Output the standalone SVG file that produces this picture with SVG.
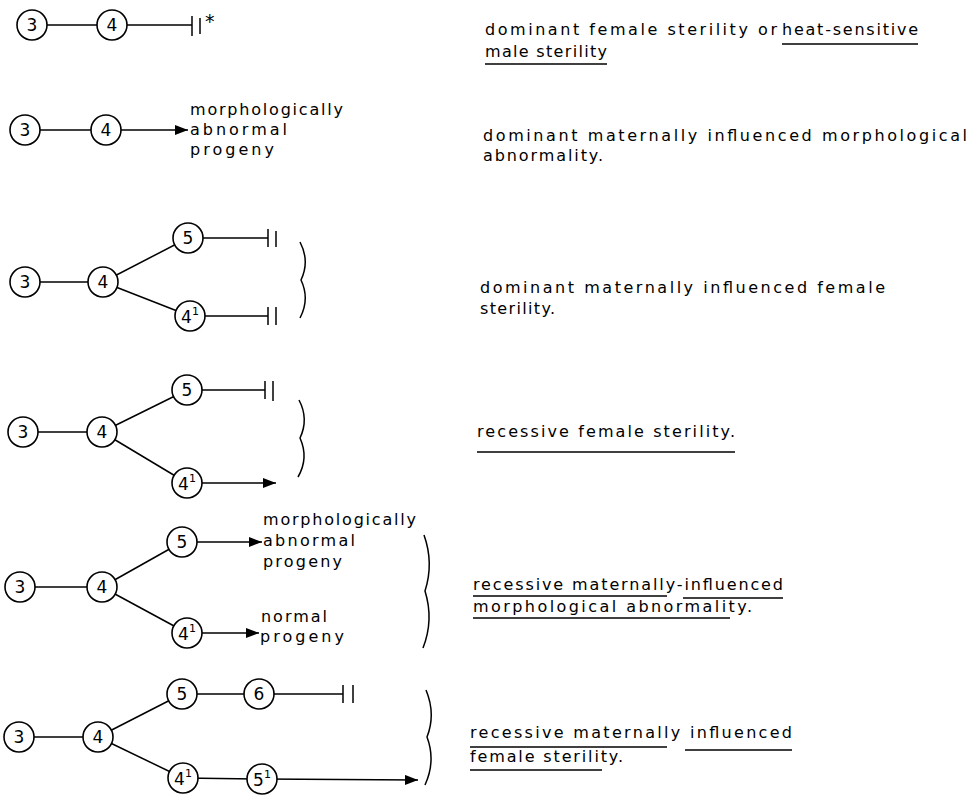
<svg xmlns="http://www.w3.org/2000/svg" width="975" height="796" viewBox="0 0 975 796">
<style>
.n circle{fill:#fff;stroke:#000;stroke-width:1.6}
.n text{font-family:"DejaVu Sans",sans-serif;font-size:17px;text-anchor:middle;fill:#000}
.n tspan.s{font-size:11px}
#connectors line,#connectors path{stroke:#000;stroke-width:1.5;fill:none}
.t{font-family:"DejaVu Sans",sans-serif;font-size:16px;fill:#000}
.u line{stroke:#000;stroke-width:1.3}
</style>
<defs>
<marker id="arr" markerUnits="userSpaceOnUse" markerWidth="13" markerHeight="10" refX="13" refY="5" orient="auto">
<path d="M0,0 L13,5 L0,10 z" fill="#000"/>
</marker>
</defs>
<rect width="975" height="796" fill="#fff"/>
<g id="connectors">
<line x1="32" y1="25" x2="112" y2="25"/>
<line x1="112" y1="25" x2="192" y2="25"/>
<line x1="192" y1="16" x2="192" y2="36"/>
<line x1="200" y1="18" x2="200" y2="34"/>
<line x1="25" y1="130" x2="106" y2="130"/>
<line x1="106" y1="130" x2="188" y2="130" marker-end="url(#arr)"/>
<line x1="25" y1="282" x2="103" y2="282"/>
<line x1="103" y1="282" x2="188" y2="238"/>
<line x1="103" y1="282" x2="190" y2="316"/>
<line x1="188" y1="238" x2="268" y2="238"/>
<line x1="268" y1="229" x2="268" y2="247"/>
<line x1="276" y1="231" x2="276" y2="247"/>
<line x1="190" y1="316" x2="268" y2="316"/>
<line x1="268" y1="307" x2="268" y2="325"/>
<line x1="276" y1="307" x2="276" y2="325"/>
<path d="M300,242 Q310,261 301,280 Q310,299 300,318"/>
<line x1="23" y1="432" x2="102" y2="432"/>
<line x1="102" y1="432" x2="187" y2="390"/>
<line x1="102" y1="432" x2="187" y2="483"/>
<line x1="187" y1="390" x2="265" y2="390"/>
<line x1="265" y1="381" x2="265" y2="399"/>
<line x1="273" y1="381" x2="273" y2="401"/>
<line x1="187" y1="483" x2="276" y2="483" marker-end="url(#arr)"/>
<path d="M299,400 Q309,419 300,438 Q309,458 298,477"/>
<line x1="20" y1="587" x2="102" y2="587"/>
<line x1="102" y1="587" x2="182" y2="542"/>
<line x1="102" y1="587" x2="187" y2="633"/>
<line x1="182" y1="542" x2="262" y2="542" marker-end="url(#arr)"/>
<line x1="187" y1="633" x2="259" y2="633" marker-end="url(#arr)"/>
<path d="M424,535 Q434,563 425,591 Q434,620 423,648"/>
<line x1="19" y1="737" x2="98" y2="737"/>
<line x1="98" y1="737" x2="182" y2="694"/>
<line x1="98" y1="737" x2="183" y2="778"/>
<line x1="182" y1="694" x2="259" y2="694"/>
<line x1="259" y1="694" x2="343" y2="694"/>
<line x1="343" y1="685" x2="343" y2="703"/>
<line x1="353" y1="685" x2="353" y2="703"/>
<line x1="183" y1="778" x2="262" y2="779"/>
<line x1="262" y1="779" x2="418" y2="780" marker-end="url(#arr)"/>
<path d="M426,690 Q436,714 427,737 Q436,761 425,785"/>
</g>
<g id="r1-3" class="n"><circle cx="32" cy="25" r="15"/><text x="32" y="31">3</text></g>
<g id="r1-4" class="n"><circle cx="112" cy="25" r="15"/><text x="112" y="31">4</text></g>
<text class="t" x="205" y="28" style="font-size:19px">*</text>
<g id="r2-3" class="n"><circle cx="25" cy="130" r="15"/><text x="25" y="136">3</text></g>
<g id="r2-4" class="n"><circle cx="106" cy="130" r="15"/><text x="106" y="136">4</text></g>
<g id="r2-label" class="t">
<text x="190" y="115" textLength="153" lengthAdjust="spacing">morphologically</text>
<text x="190" y="135" textLength="97" lengthAdjust="spacing">abnormal</text>
<text x="190" y="155" textLength="84" lengthAdjust="spacing">progeny</text>
</g>
<g id="r3-3" class="n"><circle cx="25" cy="282" r="15"/><text x="25" y="288">3</text></g>
<g id="r3-4" class="n"><circle cx="103" cy="282" r="15"/><text x="103" y="288">4</text></g>
<g id="r3-5" class="n"><circle cx="188" cy="238" r="15"/><text x="188" y="244">5</text></g>
<g id="r3-41" class="n"><circle cx="190" cy="316" r="15"/><text x="190" y="323">4<tspan class="s" dy="-8">1</tspan></text></g>
<g id="r4-3" class="n"><circle cx="23" cy="432" r="15"/><text x="23" y="438">3</text></g>
<g id="r4-4" class="n"><circle cx="102" cy="432" r="15"/><text x="102" y="438">4</text></g>
<g id="r4-5" class="n"><circle cx="187" cy="390" r="15"/><text x="187" y="396">5</text></g>
<g id="r4-41" class="n"><circle cx="187" cy="483" r="15"/><text x="187" y="490">4<tspan class="s" dy="-8">1</tspan></text></g>
<g id="r5-3" class="n"><circle cx="20" cy="587" r="15"/><text x="20" y="593">3</text></g>
<g id="r5-4" class="n"><circle cx="102" cy="587" r="15"/><text x="102" y="593">4</text></g>
<g id="r5-5" class="n"><circle cx="182" cy="542" r="15"/><text x="182" y="548">5</text></g>
<g id="r5-41" class="n"><circle cx="187" cy="633" r="15"/><text x="187" y="640">4<tspan class="s" dy="-8">1</tspan></text></g>
<g id="r5-label-a" class="t">
<text x="263" y="525" textLength="153" lengthAdjust="spacing">morphologically</text>
<text x="263" y="546" textLength="92" lengthAdjust="spacing">abnormal</text>
<text x="263" y="567" textLength="79" lengthAdjust="spacing">progeny</text>
</g>
<g id="r5-label-b" class="t">
<text x="261" y="622" textLength="66" lengthAdjust="spacing">normal</text>
<text x="260" y="642" textLength="84" lengthAdjust="spacing">progeny</text>
</g>
<g id="r6-3" class="n"><circle cx="19" cy="737" r="15"/><text x="19" y="743">3</text></g>
<g id="r6-4" class="n"><circle cx="98" cy="737" r="15"/><text x="98" y="743">4</text></g>
<g id="r6-5" class="n"><circle cx="182" cy="694" r="15"/><text x="182" y="700">5</text></g>
<g id="r6-6" class="n"><circle cx="259" cy="694" r="15"/><text x="259" y="700">6</text></g>
<g id="r6-41" class="n"><circle cx="183" cy="778" r="15"/><text x="183" y="785">4<tspan class="s" dy="-8">1</tspan></text></g>
<g id="r6-51" class="n"><circle cx="262" cy="779" r="15"/><text x="262" y="786">5<tspan class="s" dy="-8">1</tspan></text></g>
<g id="desc1" class="t">
<text x="485" y="35" textLength="292" lengthAdjust="spacing">dominant female sterility or</text>
<text x="782" y="35" textLength="136" lengthAdjust="spacing">heat-sensitive</text>
<text x="485" y="57" textLength="122" lengthAdjust="spacing">male sterility</text>
<g class="u"><line x1="782" y1="44" x2="918" y2="44"/><line x1="485" y1="64" x2="607" y2="64"/></g>
</g>
<g id="desc2" class="t">
<text x="483" y="141" textLength="484" lengthAdjust="spacing">dominant maternally influenced morphological</text>
<text x="483" y="161" textLength="120" lengthAdjust="spacing">abnormality.</text>
</g>
<g id="desc3" class="t">
<text x="480" y="293" textLength="405" lengthAdjust="spacing">dominant maternally influenced female</text>
<text x="480" y="314" textLength="75" lengthAdjust="spacing">sterility.</text>
</g>
<g id="desc4" class="t">
<text x="477" y="437" textLength="258" lengthAdjust="spacing">recessive female sterility.</text>
<g class="u"><line x1="477" y1="452" x2="735" y2="452"/></g>
</g>
<g id="desc5" class="t">
<text x="473" y="590" textLength="310" lengthAdjust="spacing">recessive maternally-influenced</text>
<text x="473" y="612" textLength="279" lengthAdjust="spacing">morphological abnormality.</text>
<g class="u"><line x1="473" y1="596" x2="667" y2="596"/><line x1="683" y1="598" x2="783" y2="598"/><line x1="473" y1="618" x2="730" y2="618"/></g>
</g>
<g id="desc6" class="t">
<text x="470" y="738" textLength="322" lengthAdjust="spacing">recessive maternally influenced</text>
<text x="470" y="762" textLength="153" lengthAdjust="spacing">female sterility.</text>
<g class="u"><line x1="470" y1="747" x2="667" y2="747"/><line x1="685" y1="750" x2="792" y2="750"/><line x1="470" y1="770" x2="602" y2="770"/></g>
</g>
</svg>
